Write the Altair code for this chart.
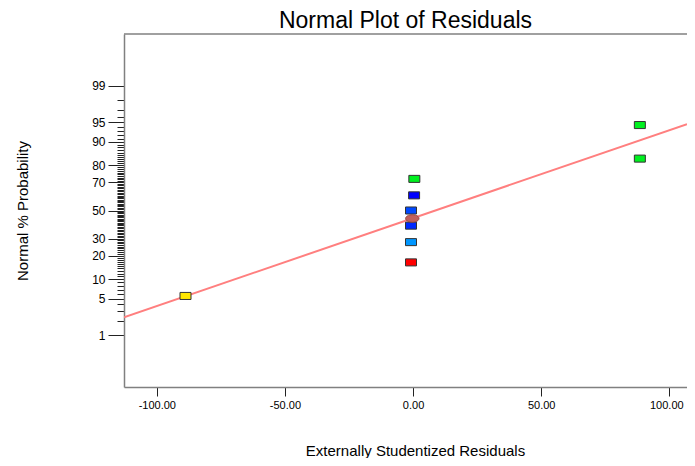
import altair as alt
import pandas as pd
from statistics import NormalDist

# residuals (x) and their normal % probability (y)
resid = [-88.8, -0.8, -0.8, -0.8, -0.8, 0.4, 0.5, 88.5, 88.5]
prob = [5.56, 16.67, 27.78, 38.89, 50.0, 61.11, 72.22, 83.33, 94.44]
run = ["r1", "r2", "r3", "r4", "r5", "r6", "r7", "r8", "r9"]

# centre marker
centre_x = [-0.3]
centre_p = [44.1]

# reference line end points
line_x = [-112.8, 106.9]
line_p = [2.32, 94.63]

# axis ticks
x_ticks = [-100, -50, 0, 50, 100]
y_major = [1, 5, 10, 20, 30, 50, 70, 80, 90, 95, 99]
y_minor = list(range(1, 100))

# styling
run_colors = ["#FFE600", "#FF0000", "#0096FF", "#0028FF", "#0048FF",
              "#0000FF", "#00F020", "#00F020", "#00F020"]
font = "Liberation Sans"
W, H = 563, 353
Z_LIM = 3.29

nd = NormalDist()
z = lambda p: nd.inv_cdf(p / 100.0)

df_pts = pd.DataFrame({"resid": resid, "prob": prob, "run": run})
df_pts["z"] = df_pts["prob"].map(z)
df_c = pd.DataFrame({"resid": centre_x, "prob": centre_p})
df_c["z"] = df_c["prob"].map(z)
df_l = pd.DataFrame({"resid": line_x, "prob": line_p})
df_l["z"] = df_l["prob"].map(z)

major_str = ",".join(str(v) for v in y_major)
pct = "round(cumulativeNormal(datum.value) * 100)"
is_major = f"indexof([{major_str}], {pct}) >= 0"

x_enc = alt.X(
    "resid:Q",
    scale=alt.Scale(domain=[line_x[0], line_x[1]], nice=False, zero=False),
    axis=alt.Axis(
        values=x_ticks, labelExpr="replace(format(datum.value, '.2f'), '\u2212', '-')",
        tickSize=9, tickColor="#222",
        domainColor="#808080", domainWidth=1.5, labelPadding=3,
        labelFont=font, labelFontSize=11, labelColor="black",
        labelOffset={"condition": {"test": f"datum.value == {x_ticks[-1]}", "value": -3}, "value": 0},
        labelFlush=False, grid=False,
        title="Externally Studentized Residuals", titleFont=font,
        titleFontSize=15, titleFontWeight="normal", titleColor="black",
        titleX=291, titleY=68, titleBaseline="alphabetic",
    ),
)
y_enc = alt.Y(
    "z:Q",
    scale=alt.Scale(domain=[-Z_LIM, Z_LIM], nice=False, zero=False),
    axis=alt.Axis(
        values=[z(v) for v in y_minor],
        labelExpr=f"{is_major} ? {pct} : ''",
        tickSize={"condition": {"test": is_major, "value": 16}, "value": 7},
        tickColor="#222", domainColor="#808080", domainWidth=1.5,
        labelPadding=3, labelFont=font, labelFontSize=12, labelColor="black",
        labelOverlap=False, labelFlush=False, grid=False,
        title="Normal % Probability", titleFont=font, titleFontSize=15,
        titleFontWeight="normal", titleColor="black", titleAngle=270,
        titleX=-102, titleY=H / 2, titleAlign="center", titleBaseline="middle",
    ),
)

rect_shape = "M-1,-0.64H1V0.64H-1Z"
ellipse_shape = "M-1,0A1,0.56,0,1,0,1,0A1,0.56,0,1,0,-1,0Z"

line = alt.Chart(df_l).mark_line(color="#FF7F7F", strokeWidth=2, clip=True).encode(
    x=x_enc, y=y_enc
)
points = alt.Chart(df_pts).mark_point(
    shape=rect_shape, size=121, filled=True, opacity=1,
    stroke="#333333", strokeWidth=1,
).encode(
    x=x_enc, y=y_enc,
    color=alt.Color("run:N", scale=alt.Scale(domain=run, range=run_colors), legend=None),
)
centre = alt.Chart(df_c).mark_point(
    shape=ellipse_shape, size=182, filled=True, opacity=1,
    color="#C0605C", stroke="#8A3E3A", strokeWidth=0.8,
).encode(x=x_enc, y=y_enc)

top_border = alt.Chart(df_c).mark_rule(color="#808080", strokeWidth=1.5).encode(
    x=alt.value(0), x2=alt.value(W), y=alt.value(0)
)

chart = (
    alt.layer(line, points, centre, top_border)
    .properties(
        width=W, height=H,
        autosize=alt.AutoSizeParams(type="none"),
        padding={"left": 116, "top": 26, "right": 0, "bottom": 71},
        title=alt.TitleParams(
            "Normal Plot of Residuals", font=font, fontSize=23,
            fontWeight="normal", color="black", anchor="middle", offset=0,
        ),
    )
    .configure_view(strokeWidth=0)
)

chart.save("out.html", embed_options={"renderer": "svg", "actions": False})
